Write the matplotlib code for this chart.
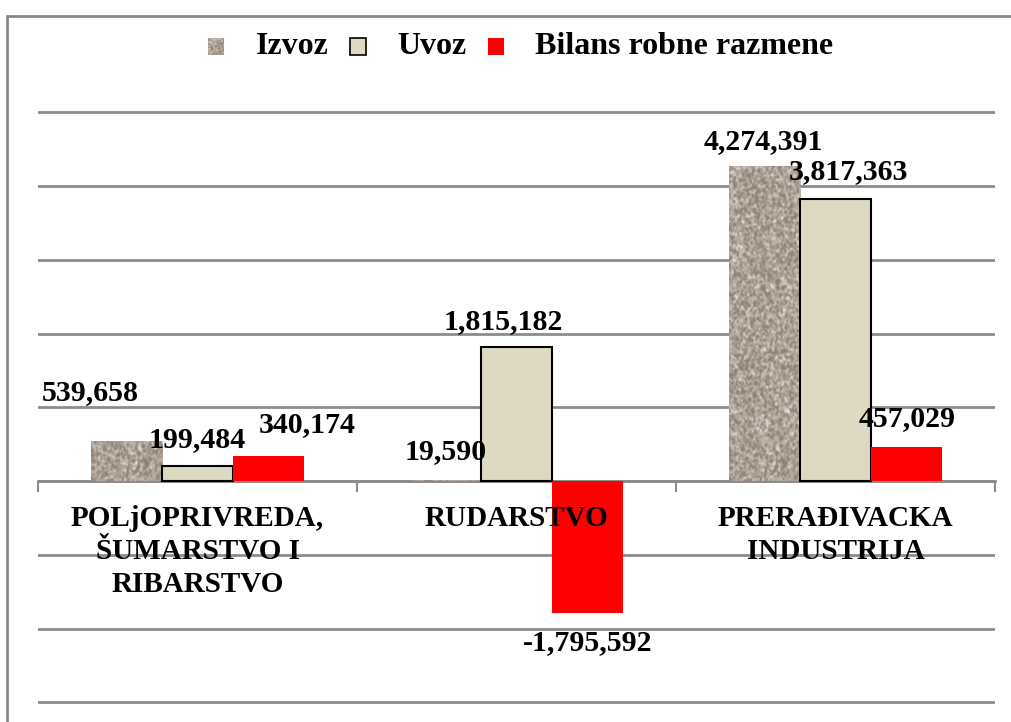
import numpy as np
import matplotlib
matplotlib.use("Agg")
import matplotlib.pyplot as plt
from matplotlib.patches import Rectangle

plt.rcParams['font.family'] = ['Liberation Serif', 'DejaVu Serif']
plt.rcParams['font.weight'] = 'bold'

# podaci
kategorije = [["POLjOPRIVREDA,", "ŠUMARSTVO I", "RIBARSTVO"], ["RUDARSTVO"], ["PRERAĐIVACKA", "INDUSTRIJA"]]
izvoz = [539658, 19590, 4274391]
uvoz = [199484, 1815182, 3817363]
bilans = [340174, -1795592, 457029]
serije = ["Izvoz", "Uvoz", "Bilans robne razmene"]

W, H = 1011, 722
fig = plt.figure(figsize=(W / 100, H / 100), dpi=100)

# okvir grafikona
fig.patches.append(Rectangle((7 / W, -0.1), 1.2, 1 - 16 / H + 0.1, transform=fig.transFigure,
                             fill=False, edgecolor="#878787", linewidth=2, zorder=0))

ylo, yhi = -3.03e6, 5.03e6
ppm = 73.75  # pikseli po milionu
top_px = 481 - yhi / 1e6 * ppm
bot_px = 481 - ylo / 1e6 * ppm
ax = fig.add_axes([38 / W, (H - bot_px) / H, (995 - 38) / W, (bot_px - top_px) / H])
ax.set_xlim(-0.5, 2.5)
ax.set_ylim(ylo, yhi)
for s in ["top", "left", "right"]:
    ax.spines[s].set_visible(False)
ax.spines["bottom"].set_position(("data", 0))
ax.spines["bottom"].set_color("#8c8c8c")
ax.spines["bottom"].set_linewidth(2)
ax.spines["bottom"].set_zorder(1)
ax.set_yticks(np.arange(-3e6, 5e6 + 1, 1e6))
ax.tick_params(axis="y", left=False, labelleft=False)
ax.yaxis.grid(True, color="#8c8c8c", linewidth=2)
ax.set_axisbelow(True)
ax.set_xticks([-0.5, 0.5, 1.5, 2.5])
ax.tick_params(axis="x", length=8, width=1.5, color="#8c8c8c", labelbottom=False, direction="out")
ax.set_facecolor("none")

x = np.arange(len(kategorije))
bw = 0.223

# Izvoz - tekstura granita
rng = np.random.default_rng(3)
noise = rng.normal(size=(400, 120))
k = np.ones(3) / 3
for _ in range(2):
    noise = np.apply_along_axis(lambda r: np.convolve(r, k, mode="same"), 0, noise)
    noise = np.apply_along_axis(lambda r: np.convolve(r, k, mode="same"), 1, noise)
noise = (noise - noise.min()) / (noise.max() - noise.min())
base = np.array([145, 130, 118]) / 255
light = np.array([228, 222, 212]) / 255
t = np.clip((noise - 0.38) * 2.0, 0, 1)[..., None]
tex = base * (1 - t) + light * t

b1 = ax.bar(x - bw, izvoz, bw, color="#a89a8c", zorder=2)
for r in b1:
    img = ax.imshow(tex, extent=(r.get_x(), r.get_x() + r.get_width(), 0, max(izvoz)),
                    aspect="auto", zorder=2.1, interpolation="bilinear")
    img.set_clip_path(r)
ax.set_xlim(-0.5, 2.5)
ax.set_ylim(ylo, yhi)
b2 = ax.bar(x, uvoz, bw, color="#ddd9c3", edgecolor="black", linewidth=1.5, zorder=3)
b3 = ax.bar(x + bw, bilans, bw, color="#ff0000", zorder=3)

# oznake vrijednosti (pomaci u sirini kategorije i milionima)
fs = 21.5
def oznaka(xv, yv, dx, dy):
    ax.text(xv + dx, yv + dy, f"{yv:,}", ha="center", va="center", fontsize=fs,
            fontweight="bold", zorder=5)

oznaka(x[0] - bw, izvoz[0], -0.114, 0.653e6)
oznaka(x[1] - bw, izvoz[1], 0.0, 0.374e6)
oznaka(x[2] - bw, izvoz[2], -0.004, 0.322e6)
oznaka(x[0], uvoz[0], 0.0, 0.356e6)
oznaka(x[1], uvoz[1], -0.042, 0.341e6)
oznaka(x[2], uvoz[2], 0.039, 0.373e6)
oznaka(x[0] + bw, bilans[0], 0.12, 0.419e6)
oznaka(x[1] + bw, bilans[1], 0.0, -0.401e6)
oznaka(x[2] + bw, bilans[2], 0.0, 0.384e6)

# nazivi kategorija
for xi, linije in zip(x, kategorije):
    for j, lab in enumerate(linije):
        ax.text(xi, -0.515e6 - j * 0.447e6, lab, ha="center", va="center", fontsize=21,
                fontweight="bold", zorder=6)

# legenda
leg_y = 1 - 46 / H
sw = [("#a89a8c", None), ("#ddd9c3", "black"), ("#ff0000", None)]
mx = [208, 350, 488]
tx = [256, 397, 535]
for i in range(3):
    if i == 0:
        lax = fig.add_axes([mx[i] / W, leg_y - 8.5 / H, 16 / W, 17 / H])
        lax.imshow(tex[:40, :40], aspect="auto", interpolation="bilinear")
        lax.axis("off")
    else:
        fig.patches.append(Rectangle((mx[i] / W, leg_y - 8.5 / H), 16 / W, 17 / H,
                                     transform=fig.transFigure, facecolor=sw[i][0],
                                     edgecolor=sw[i][1] or "none", linewidth=1.2))
    fig.text(tx[i] / W, leg_y, serije[i], ha="left", va="center", fontsize=23, fontweight="bold")

fig.savefig("out.png", dpi=100)
